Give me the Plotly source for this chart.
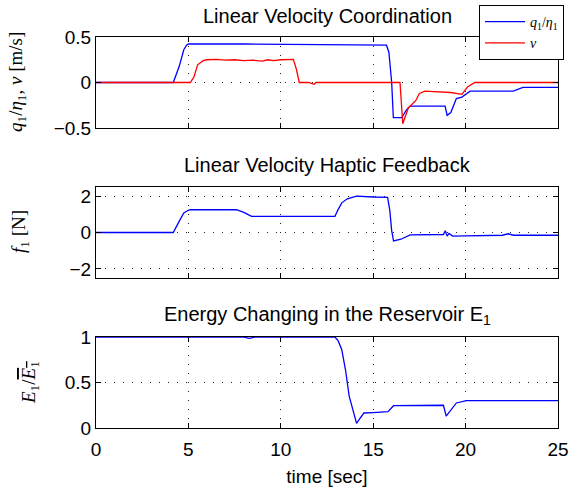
import plotly.graph_objects as go

# ---------------- data ----------------
t_q = [0, 4.18, 4.5, 4.75, 4.9, 5.0, 8, 12, 15.0, 15.72, 15.85, 16.0, 16.09, 16.54, 16.8, 17.0,
       18.89, 19.0, 19.2, 19.5, 19.8, 20.24, 22.58, 23.1, 25]
v_q = [0, 0, 0.175, 0.36, 0.41, 0.424, 0.423, 0.42, 0.418, 0.41, 0.33, 0.0, -0.387, -0.387, -0.3, -0.26,
       -0.26, -0.36, -0.33, -0.176, -0.16, -0.095, -0.095, -0.054, -0.054]

t_nu = [0, 5.1, 5.3, 5.5, 5.8, 6.0, 6.5, 7.0, 7.5, 8.0, 8.5, 9.0, 9.3, 9.6, 10.0, 10.4, 10.68, 10.85, 11.0,
        11.5, 11.8, 11.9, 12.2, 16.45, 16.6, 16.7, 16.9, 17.3, 17.5, 17.8, 18.5, 19.2, 19.8, 20.1, 20.5, 25]
v_nu = [0, 0, 0.06, 0.194, 0.24, 0.25, 0.255, 0.245, 0.25, 0.24, 0.245, 0.235, 0.25, 0.24, 0.25, 0.255,
        0.255, 0.14, 0.0, 0.0, -0.02, 0.0, 0.0, 0.0, -0.454, -0.4, -0.28, -0.2, -0.12, -0.095, -0.1, -0.11,
        -0.13, -0.05, 0.0, 0.0]

t_f = [0, 4.18, 4.5, 4.75, 5.0, 5.1, 7.6, 8.0, 8.42, 12.93, 13.1, 13.3, 13.6, 14.1, 15.0, 15.78,
       15.9, 16.0, 16.1, 16.5, 17.0, 18.8, 18.9, 19.0, 19.1, 19.3, 20.0, 22.0, 22.3, 22.6, 25]
v_f = [0, 0, 0.61, 1.07, 1.22, 1.26, 1.25, 1.11, 0.89, 0.89, 1.26, 1.63, 1.85, 2.0, 1.95, 1.93,
       1.2, 0.1, -0.46, -0.37, -0.13, -0.11, 0.1, -0.2, -0.05, -0.2, -0.18, -0.15, -0.07, -0.15, -0.15]

t_e = [0, 8.0, 8.3, 8.6, 12.93, 13.1, 13.3, 13.5, 13.7, 13.9, 14.0, 14.1, 14.3, 14.5, 15.0, 15.8,
       16.1, 18.8, 18.95, 19.2, 19.5, 20.05, 25]
v_e = [1, 1, 0.985, 1, 1, 0.96, 0.86, 0.64, 0.35, 0.2, 0.15, 0.05, 0.11, 0.165, 0.17, 0.18,
       0.245, 0.25, 0.13, 0.2, 0.275, 0.30, 0.30]

x_ticks = [0, 5, 10, 15, 20, 25]
y1_ticks = [-0.5, 0, 0.5]
y2_ticks = [-2, 0, 2]
y3_ticks = [0, 0.5, 1]

# ---------------- figure ----------------
W, H = 587, 492
fig = go.Figure()
lw = 1.3
fig.add_trace(go.Scatter(x=t_q, y=v_q, mode="lines", line=dict(color="#0000ff", width=lw),
                         name="<i>q</i><sub>1</sub>/<i>η</i><sub>1</sub>", xaxis="x", yaxis="y"))
fig.add_trace(go.Scatter(x=t_nu, y=v_nu, mode="lines", line=dict(color="#ff0000", width=lw),
                         name="<i>ν</i>", xaxis="x", yaxis="y"))
fig.add_trace(go.Scatter(x=t_f, y=v_f, mode="lines", line=dict(color="#0000ff", width=lw),
                         showlegend=False, xaxis="x2", yaxis="y2"))
fig.add_trace(go.Scatter(x=t_e, y=v_e, mode="lines", line=dict(color="#0000ff", width=lw),
                         showlegend=False, xaxis="x3", yaxis="y3"))

xdom = [96 / W, 558 / W]
doms = [[1 - 128 / H, 1 - 37 / H], [1 - 278 / H, 1 - 187 / H], [1 - 428 / H, 1 - 337 / H]]
font = "Liberation Sans, Arial, sans-serif"
common = dict(showline=True, linecolor="black", linewidth=1, mirror="allticks",
              ticks="inside", ticklen=5, tickcolor="black", showgrid=True,
              gridcolor="#222222", griddash="1px,8px", gridwidth=1, zeroline=False,
              tickfont=dict(family=font, size=19, color="black"))

ylists = [(y1_ticks, [-0.5, 0.5]), (y2_ticks, [-2.5, 2.5]), (y3_ticks, [0, 1])]
for i in range(3):
    sx = "" if i == 0 else str(i + 1)
    fig.update_layout(**{
        "xaxis" + sx: dict(domain=xdom, range=[0, 25], tickvals=x_ticks,
                           showticklabels=(i == 2), anchor="y" + sx, **common),
        "yaxis" + sx: dict(domain=doms[i], range=ylists[i][1], tickvals=ylists[i][0],
                           anchor="x" + sx, **common),
    })
fig.update_layout(xaxis3=dict(ticklabelstandoff=4,
                              title=dict(text="time [sec]", font=dict(family=font, size=19, color="black"),
                                         standoff=10)))

ann = []
titles = [("Linear Velocity Coordination", 16),
          ("Linear Velocity Haptic Feedback", 165),
          ("Energy Changing in the Reservoir E<sub>1</sub>", 315)]
for txt, yp in titles:
    ann.append(dict(text=txt, x=327 / W, y=1 - yp / H, xref="paper", yref="paper",
                    showarrow=False, xanchor="center", yanchor="middle",
                    font=dict(family=font, size=20, color="black")))
serif = "Liberation Serif, DejaVu Serif, serif"
ylabels = [("<i>q</i><sub>1</sub>/<i>η</i><sub>1</sub>, <i>ν</i> [m/s]", 17, 82),
           ("<i>f</i><sub>1</sub> [N]", 20, 232),
           ("<i>E</i><sub>1</sub>/<span style=\"text-decoration:overline\"><i>E</i><sub>1</sub></span>", 30, 383)]
for txt, xp, yp in ylabels:
    ann.append(dict(text=txt, x=xp / W, y=1 - yp / H, xref="paper", yref="paper",
                    showarrow=False, textangle=-90, xanchor="center", yanchor="middle",
                    font=dict(family=serif, size=19, color="black")))

fig.update_layout(
    width=W, height=H, margin=dict(l=0, r=0, t=0, b=0, autoexpand=False),
    paper_bgcolor="white", plot_bgcolor="white",
    annotations=ann,
    legend=dict(x=479 / W, y=1 - 5 / H, xanchor="left", yanchor="top",
                bgcolor="white", bordercolor="black", borderwidth=1,
                font=dict(family=serif, size=14, color="black"),
                tracegroupgap=0, itemwidth=40),
)
fig.write_html("out.html")
